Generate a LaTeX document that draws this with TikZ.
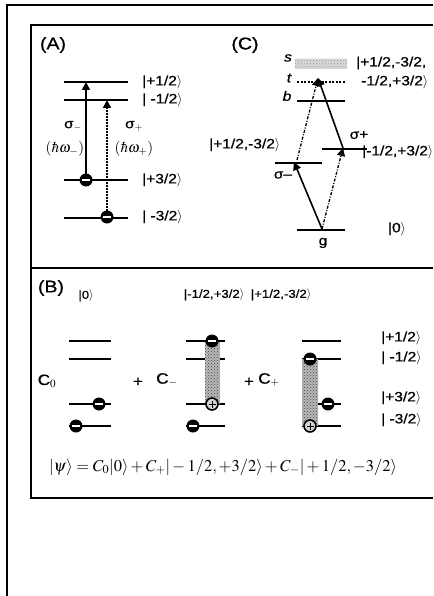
\documentclass[tikz,border=0pt]{standalone}
\usepackage{amsmath, amssymb}
\usepackage{mathptmx}
\usepackage{fontspec}
\setsansfont{Liberation Sans}[FakeStretch=1.15, FakeBold=0.8]
\usetikzlibrary{arrows.meta,patterns}

\newcommand{\ket}[1]{|#1$\rangle$}
% electron: black disc with a white bar
\newcommand{\elec}[1]{\fill #1 circle (6.5pt); \draw[white, line width=1.6pt] #1 ++(-4pt,0) -- ++(8pt,0);}
% hole: open disc with a plus
\newcommand{\hole}[1]{\draw[line width=1.6pt, fill=gray!35] #1 circle (6pt); \draw[line width=0.8pt] #1 ++(-3.5pt,0) -- ++(7pt,0) #1 ++(0,-3.5pt) -- ++(0,7pt);}

\begin{document}
\begin{tikzpicture}[x=1pt, y=-1pt, >={Triangle[length=8pt,width=8pt]}, font=\sffamily\fontsize{13.5}{15}\selectfont, inner sep=0.5pt,
  panel/.style={font=\sffamily\fontsize{17}{19}\selectfont},
  big/.style={font=\sffamily\fontsize{15}{17}\selectfont},
  small/.style={font=\sffamily\fontsize{11.5}{13}\selectfont},
  ket/.style={anchor=west, inner sep=0pt},
  lvlA/.style={line width=1.8pt},
  lvlB/.style={line width=2.4pt},
  lvlC/.style={line width=2.6pt},
  dotarrow/.style={->, line width=1.6pt, dash pattern=on 2pt off 1pt},
  dasharrow/.style={->, line width=1.3pt, dash pattern=on 3pt off 1.5pt on 1pt off 1.5pt},
  solidarrow/.style={->, line width=1.6pt},
  speckle/.style={fill=gray!55, postaction={pattern=crosshatch dots, pattern color=black!75}}]

  \useasboundingbox (0,0) rectangle (433,596);

  % Frames
  \draw[line width=1.5pt] (433,5) -- (7,5) -- (7,596);
  \draw[line width=2.5pt] (433,25) -- (31,25) -- (31,498) -- (433,498);
  \draw[line width=2.5pt] (31,268) -- (433,268);

  % (A) levels
  \node[panel] (labA) at (53,45) {(A)};
  \foreach \y in {82,100,180,218}
    \draw[lvlA] (64,\y) -- (128,\y);
  \node[ket] (kA1) at (142,82) {\ket{+1/2}};
  \node[ket] (kA2) at (142,100) {\ket{ -1/2}};
  \node[ket] (kA3) at (142,180) {\ket{+3/2}};
  \node[ket] (kA4) at (142,217) {\ket{ -3/2}};

  % (A) transitions
  \coordinate (eA1) at (86,180);
  \coordinate (tA1) at (86,82);
  \coordinate (eA2) at (107,217);
  \coordinate (tA2) at (107,100);
  \draw[solidarrow] (eA1) -- (tA1);
  \draw[dotarrow] (eA2) -- (tA2);
  \elec{(eA1)}
  \elec{(eA2)}
  \node (sgmA) at (73,126) {σ$_{-}$};
  \node (sgpA) at (134,126) {σ$_{+}$};
  \node (hwmA) at (65,149) {\fontsize{15}{17}\selectfont$(\hbar\omega_{-})$};
  \node (hwpA) at (134,149) {\fontsize{15}{17}\selectfont$(\hbar\omega_{+})$};

  % (C) biexciton scheme
  \node[panel] (labC) at (245,45) {(C)};
  \fill[gray!30] (295,59) rectangle (347,69);
  \fill[pattern=crosshatch dots, pattern color=gray!80] (295,59) rectangle (347,69);
  \draw[line width=2pt, dash pattern=on 2pt off 1.5pt] (297,82) -- (345,82);
  \draw[lvlC] (297,101) -- (345,101);
  \draw[lvlC] (275,163) -- (322,163);
  \draw[lvlC] (322,149) -- (367,149);
  \draw[lvlC] (297,230) -- (345,230);
  \node (s) at (288,58) {\itshape s};
  \node (t) at (289,78) {\itshape t};
  \node (b) at (287,96) {\itshape b};
  \node[ket] (kC1) at (356,63) {|+1/2,-3/2,};
  \node[ket] (kC2) at (361,82) {-1/2,+3/2$\rangle$};
  \node[ket] (kC3) at (209,145) {\ket{+1/2,-3/2}};
  \node[ket] (kC4) at (362,152) {\ket{-1/2,+3/2}};
  \node (sgmC) at (283,175) {σ–};
  \node (sgpC) at (359,135) {σ+};
  \node (g) at (323,243) {g};
  \node (k0C) at (397,229) {\ket{0}};
  \coordinate (gC) at (322,229);
  \coordinate (lmC) at (294,162);
  \coordinate (lsC) at (297,160);
  \coordinate (rmC) at (343,148);
  \coordinate (topC) at (318,78);
  \draw[solidarrow] (gC) -- (lmC);
  \draw[dasharrow] (gC) -- (rmC);
  \draw[solidarrow] (rmC) -- (topC);
  \draw[dasharrow] (lsC) -- (topC);

  % (B) superposition
  \node[panel] (labB) at (51,288) {(B)};
  \node[small] (k0B) at (86,296) {\ket{0}};
  \node[small] (kmB) at (214,295) {\ket{-1/2,+3/2}};
  \node[small] (kpB) at (281,295) {\ket{+1/2,-3/2}};
  \foreach \y in {341,359,404,426} {
    \draw[lvlB] (69,\y) -- (111,\y);
    \draw[lvlB] (186,\y) -- (225,\y);
    \draw[lvlB] (302,\y) -- (341,\y);
  }
  \fill[speckle] (205,342) rectangle (220,404);
  \fill[speckle] (302,359) rectangle (318,426);
  \elec{(99,404)}
  \elec{(76,426)}
  \elec{(212,341)}
  \hole{(212,404)}
  \elec{(193,426)}
  \elec{(310,359)}
  \elec{(328,404)}
  \hole{(310,426)}
  \node[big] (c0) at (47,381) {C$_0$};
  \node[big] (plus1) at (138,382) {+};
  \node[big] (cm) at (167,380) {C$_{-}$};
  \node[big] (plus2) at (249,382) {+};
  \node[big] (cp) at (269,380) {C$_{+}$};
  \node[ket] (kB1) at (381,338) {\ket{+1/2}};
  \node[ket] (kB2) at (381,358) {\ket{ -1/2}};
  \node[ket] (kB3) at (381,398) {\ket{+3/2}};
  \node[ket] (kB4) at (381,420) {\ket{ -3/2}};
  \node (psi) at (223,467) {\fontsize{16.5}{18}\selectfont$|\psi\rangle = C_0|0\rangle + C_+|-1/2,+3/2\rangle + C_-|+1/2,-3/2\rangle$};
\end{tikzpicture}
\end{document}
